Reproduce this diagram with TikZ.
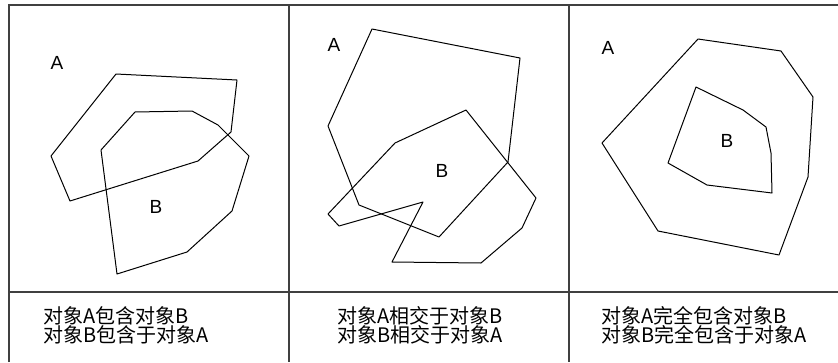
\documentclass[tikz,border=0pt]{standalone}
\usepackage{fontspec}
\setmainfont{Liberation Sans}
\newfontfamily\cjk{Noto Sans CJK SC}
\begin{document}
\begin{tikzpicture}[x=1pt,y=-1pt,
  frame/.style={line width=1.6pt,draw=black!75},
  poly/.style={line width=1pt,draw=black,line join=round},
  lbl/.style={font=\fontsize{19}{19}\selectfont,inner sep=0pt},
  captext/.style={font=\cjk\fontsize{20}{20}\selectfont,inner sep=0pt,anchor=base west}]
\useasboundingbox (0,0) rectangle (838,362);
% frame
\draw[frame] (9,362) -- (9,5) -- (838,5);
\draw[frame] (289,5) -- (289,362);
\draw[frame] (569,5) -- (569,362);
\draw[frame] (9,292) -- (838,292);
% panel 1
\draw[poly] (116,74) -- (237,80) -- (231,132) -- (198,161) -- (70,201) -- (51,156) -- cycle;
\draw[poly] (135,112) -- (192,111) -- (218,125) -- (249,156) -- (232,211) -- (187,252) -- (117,274) -- (101,150) -- cycle;
\node[lbl] (a1) at (57,63) {A};
\node[lbl] (b1) at (156,207) {B};
% panel 2
\draw[poly] (372,29) -- (520,58) -- (508,162) -- (439,237) -- (359,205) -- (328,126) -- cycle;
\draw[poly] (466,110) -- (536,198) -- (522,228) -- (481,263) -- (392,262) -- (423,202) -- (339,226) -- (328,214) -- (395,143) -- cycle;
\node[lbl] (a2) at (334,45) {A};
\node[lbl] (b2) at (442,171) {B};
% panel 3
\draw[poly] (698,39) -- (781,51) -- (813,97) -- (808,177) -- (779,255) -- (658,231) -- (602,143) -- cycle;
\draw[poly] (696,87) -- (743,110) -- (766,127) -- (771,153) -- (772,193) -- (707,185) -- (668,163) -- cycle;
\node[lbl] (a3) at (608,48) {A};
\node[lbl] (b3) at (727,141) {B};
% captions
\node[captext] (t1a) at (43,323) {对象A包含对象B};
\node[captext] (t1b) at (43,342) {对象B包含于对象A};
\node[captext] (t2a) at (337,323) {对象A相交于对象B};
\node[captext] (t2b) at (337,342) {对象B相交于对象A};
\node[captext] (t3a) at (601,323) {对象A完全包含对象B};
\node[captext] (t3b) at (601,342) {对象B完全包含于对象A};
\end{tikzpicture}
\end{document}
